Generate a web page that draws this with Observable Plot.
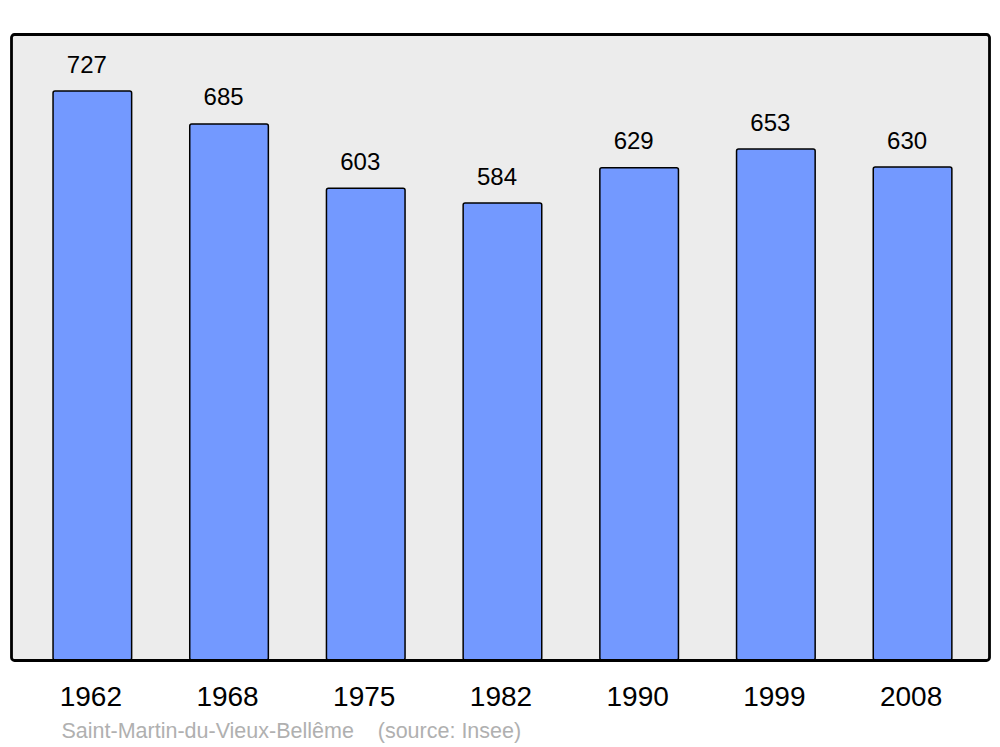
<!DOCTYPE html>
<html>
<head>
<meta charset="utf-8">
<script src="https://cdn.jsdelivr.net/npm/d3@7"></script>
<script src="https://cdn.jsdelivr.net/npm/@observablehq/plot@0.6"></script>
<style>
  html, body { margin: 0; padding: 0; background: #ffffff; }
  #chart svg { display: block; }
</style>
</head>
<body>
<div id="chart"></div>
<script>
const years = ["1962", "1968", "1975", "1982", "1990", "1999", "2008"];
const population = [727, 685, 603, 584, 629, 653, 630];
const captionText = "Saint-Martin-du-Vieux-Bellême\u00a0\u00a0\u00a0\u00a0(source: Insee)";

const data = years.map((year, i) => ({year, value: population[i]}));

const chart = Plot.plot({
  width: 1000,
  height: 747,
  marginTop: 34,
  marginRight: 11,
  marginBottom: 87,
  marginLeft: 11,
  style: {fontFamily: "'Liberation Sans', Arial, sans-serif", background: "#ffffff", overflow: "visible"},
  x: {type: "band", domain: years, range: [25.7, 979.2], paddingInner: 0.425, paddingOuter: 0.2, round: false, label: null},
  y: {domain: [0, 800], axis: null},
  marks: [
    Plot.frame({fill: "#ececec", stroke: null}),
    Plot.barY(data, {x: "year", y: "value", fill: "#7399ff", stroke: "#000000", strokeWidth: 1.5, rx: 2}),
    Plot.text(data, {x: "year", y: "value", text: d => String(d.value), fontSize: 24, fill: "#000000", lineAnchor: "bottom", dy: -19, dx: -6}),
    Plot.frame({stroke: "#000000", strokeWidth: 2.8, rx: 3}),
    Plot.axisX({tickSize: 0, tickPadding: 26, fontSize: 28, fill: "#000000", dx: -2, label: null}),
    Plot.text([captionText], {frameAnchor: "bottom-left", text: d => d, textAnchor: "start", lineAnchor: "bottom", dx: 50, dy: 77, fontSize: 21.5, fill: "#b0b0b0"})
  ]
});
document.getElementById("chart").appendChild(chart);
</script>
</body>
</html>
